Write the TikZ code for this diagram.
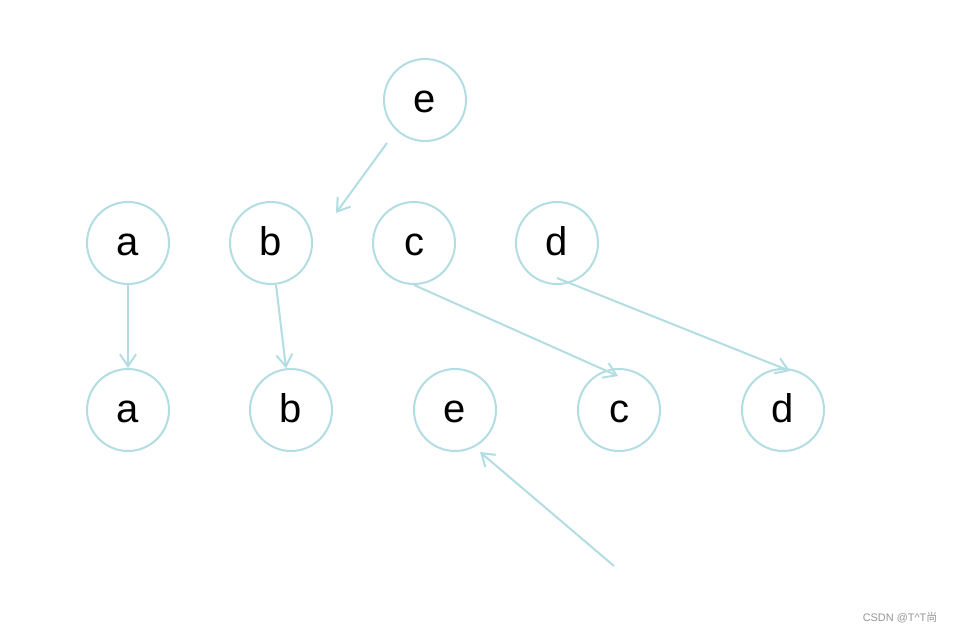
\documentclass[tikz,border=0pt]{standalone}
\usepackage{fontspec}
\setmainfont{Liberation Sans}
\newfontfamily\cjk{Noto Sans CJK SC}
\usetikzlibrary{arrows.meta}
\definecolor{edgeblue}{RGB}{178,221,227}
\definecolor{markgray}{RGB}{150,150,150}
\begin{document}
\begin{tikzpicture}[x=0.75pt,y=-0.75pt,
  vnode/.style={circle,draw=edgeblue,line width=1.5pt,minimum size=61.5pt,inner sep=0pt,
    font=\fontsize{30}{30}\selectfont,text height=18pt,text depth=0pt},
  link/.style={draw=edgeblue,line width=1.5pt,-{Straight Barb[length=9pt,width=12pt,line width=1.5pt]}}]
\useasboundingbox[fill=white] (0,0) rectangle (953,633);
\node[vnode] (eT) at (425,100) {e};
\node[vnode] (a1) at (128,243) {a};
\node[vnode] (b1) at (271,243) {b};
\node[vnode] (c1) at (414,243) {c};
\node[vnode] (d1) at (557,243) {d};
\node[vnode] (a2) at (128,410) {a};
\node[vnode] (b2) at (291,410) {b};
\node[vnode] (e2) at (455,410) {e};
\node[vnode] (c2) at (619,410) {c};
\node[vnode] (d2) at (783,410) {d};
\coordinate (p1) at (387,143);
\coordinate (p2) at (336,213);
\coordinate (p3) at (614,566);
\coordinate (p4) at (480,452);
\coordinate (c1s) at (414,285);
\coordinate (c2t) at (618,376);
\coordinate (d1s) at (557,278);
\coordinate (d2t) at (790,371);
\draw[link] (p1) -- (p2);
\draw[link] (a1) -- (a2);
\draw[link] (b1) -- (b2);
\draw[link] (c1s) -- (c2t);
\draw[link] (d1s) -- (d2t);
\draw[link] (p3) -- (p4);
\node[text=markgray,font=\fontsize{8.2}{8.2}\selectfont,anchor=east] (wm) at (942,618) {CSDN @T\^{}T{\cjk 尚}};
\end{tikzpicture}
\end{document}
